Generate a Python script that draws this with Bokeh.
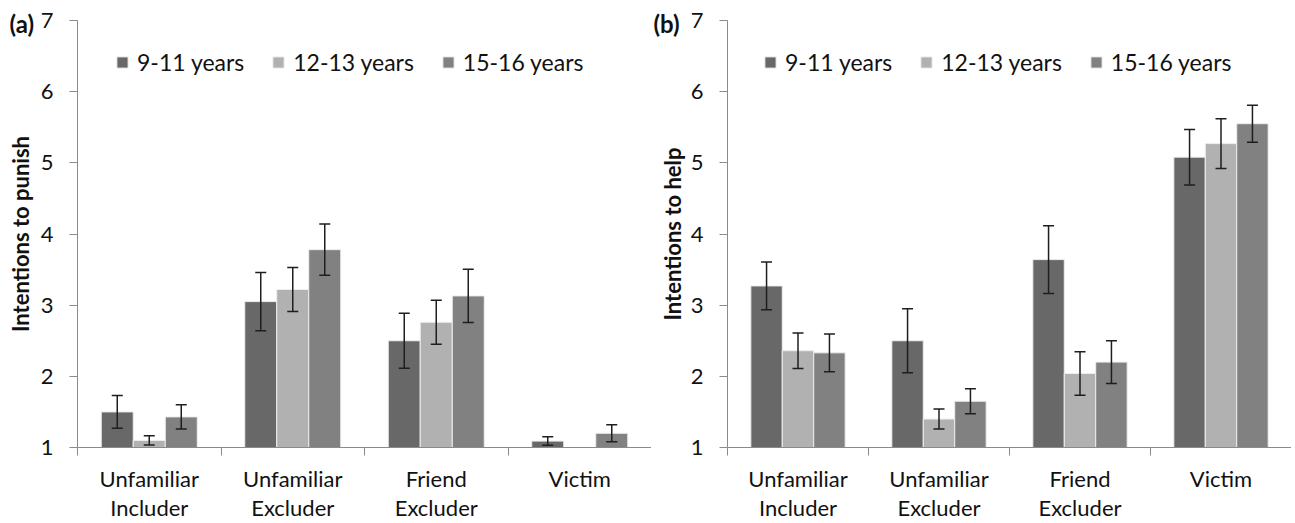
from bokeh.plotting import figure
from bokeh.models import (ColumnDataSource, FixedTicker, Legend, LegendItem, Whisker,
                          TeeHead, Range1d)
from bokeh.layouts import row
from bokeh.embed import file_html
from bokeh.resources import INLINE

# ---- data ----
categories = ["Unfamiliar\nIncluder", "Unfamiliar\nExcluder", "Friend\nExcluder", "Victim"]
groups = ["9-11 years", "12-13 years", "15-16 years"]
colors = ["#686868", "#b1b1b1", "#818181"]

punish_9_11 = [1.50, 3.05, 2.50, 1.09]
punish_12_13 = [1.10, 3.22, 2.76, None]
punish_15_16 = [1.43, 3.78, 3.13, 1.20]
punish_err_9_11 = [0.23, 0.41, 0.385, 0.06]
punish_err_12_13 = [0.065, 0.31, 0.31, None]
punish_err_15_16 = [0.17, 0.36, 0.375, 0.12]

help_9_11 = [3.27, 2.50, 3.64, 5.08]
help_12_13 = [2.36, 1.40, 2.04, 5.27]
help_15_16 = [2.33, 1.65, 2.20, 5.55]
help_err_9_11 = [0.335, 0.45, 0.475, 0.39]
help_err_12_13 = [0.25, 0.14, 0.305, 0.35]
help_err_15_16 = [0.265, 0.175, 0.30, 0.26]

y_ticks = [1, 2, 3, 4, 5, 6, 7]

FONT = "Lato"
BAR_W = 0.223
OFFSETS = [-BAR_W, 0.0, BAR_W]
TOP = 20
FRAME_H = 427


def make_panel(tag, ylabel, series, errs, width, border_left, frame_width, legend_x,
               title_standoff, tag_offset):
    n = len(categories)
    p = figure(width=width, height=523, output_backend="svg", toolbar_location=None,
               x_range=Range1d(0, n), y_range=Range1d(1, 7),
               min_border_left=border_left, min_border_top=TOP, min_border_right=0,
               min_border_bottom=0, frame_width=frame_width, frame_height=FRAME_H)
    p.outline_line_color = None
    p.xgrid.visible = False
    p.ygrid.visible = False

    # panel tag as the (left-aligned) title
    p.title.text = tag
    p.title.align = "left"
    p.title.offset = tag_offset
    p.title.standoff = -35
    p.title.vertical_align = "bottom"
    p.title.text_font = FONT
    p.title.text_font_style = "bold"
    p.title.text_font_size = "24px"
    p.title.text_color = "#111111"

    items = []
    for j, (vals, ev) in enumerate(zip(series, errs)):
        xs, tops, ups, lows = [], [], [], []
        for i, (v, e) in enumerate(zip(vals, ev)):
            if v is None:
                continue
            xs.append(i + 0.5 + OFFSETS[j])
            tops.append(v)
            ups.append(v + e)
            lows.append(v - e)
        src = ColumnDataSource(dict(x=xs, top=tops, upper=ups, lower=lows))
        r = p.vbar(x="x", top="top", bottom=1, width=BAR_W, source=src,
                   fill_color=colors[j], line_color="#eeeeee", line_width=1)
        items.append(LegendItem(label=groups[j], renderers=[r]))
        w = Whisker(base="x", upper="upper", lower="lower", source=src,
                    line_color="#1e1e1e", line_width=1.5, level="annotation",
                    upper_head=TeeHead(size=11, line_color="#1e1e1e", line_width=1.5),
                    lower_head=TeeHead(size=11, line_color="#1e1e1e", line_width=1.5))
        p.add_layout(w)

    leg = Legend(items=items, orientation="horizontal", location=(legend_x, 371),
                 glyph_width=14, glyph_height=14, label_standoff=8, spacing=27,
                 padding=0, margin=0, border_line_alpha=0, background_fill_alpha=0,
                 label_text_font=FONT, label_text_font_size="23px",
                 label_text_color="#111111")
    p.add_layout(leg)

    # x axis
    xa = p.xaxis[0]
    xa.ticker = FixedTicker(ticks=[i + 0.5 for i in range(n)],
                            minor_ticks=list(range(n + 1)))
    xa.major_label_overrides = {i + 0.5: c for i, c in enumerate(categories)}
    xa.major_tick_out = 0
    xa.major_tick_in = 0
    xa.major_tick_line_color = None
    xa.minor_tick_out = 8
    xa.minor_tick_in = 0
    xa.minor_tick_line_color = "#8a8a8a"
    xa.axis_line_color = "#8a8a8a"
    xa.major_label_standoff = 9
    xa.major_label_text_font = FONT
    xa.major_label_text_font_size = "22px"
    xa.major_label_text_line_height = 1.1
    xa.major_label_text_color = "#111111"

    # y axis
    ya = p.yaxis[0]
    ya.ticker = FixedTicker(ticks=y_ticks, minor_ticks=[])
    ya.major_tick_out = 8
    ya.major_tick_in = 0
    ya.major_tick_line_color = "#8a8a8a"
    ya.axis_line_color = "#8a8a8a"
    ya.major_label_standoff = 16
    ya.major_label_text_font = FONT
    ya.major_label_text_font_size = "22px"
    ya.major_label_text_color = "#111111"
    ya.axis_label = ylabel
    ya.axis_label_text_font = FONT
    ya.axis_label_text_font_style = "bold"
    ya.axis_label_text_font_size = "22px"
    ya.axis_label_text_color = "#111111"
    ya.axis_label_standoff = title_standoff
    return p


pa = make_panel("(a)", "Intentions to punish",
                [punish_9_11, punish_12_13, punish_15_16],
                [punish_err_9_11, punish_err_12_13, punish_err_15_16],
                width=653, border_left=77, frame_width=574, legend_x=38,
                title_standoff=4, tag_offset=-68)
pb = make_panel("(b)", "Intentions to help",
                [help_9_11, help_12_13, help_15_16],
                [help_err_9_11, help_err_12_13, help_err_15_16],
                width=642, border_left=76, frame_width=564, legend_x=36,
                title_standoff=2, tag_offset=-74)

layout = row(pa, pb, spacing=0)
open("out.html", "w").write(file_html(layout, INLINE))
